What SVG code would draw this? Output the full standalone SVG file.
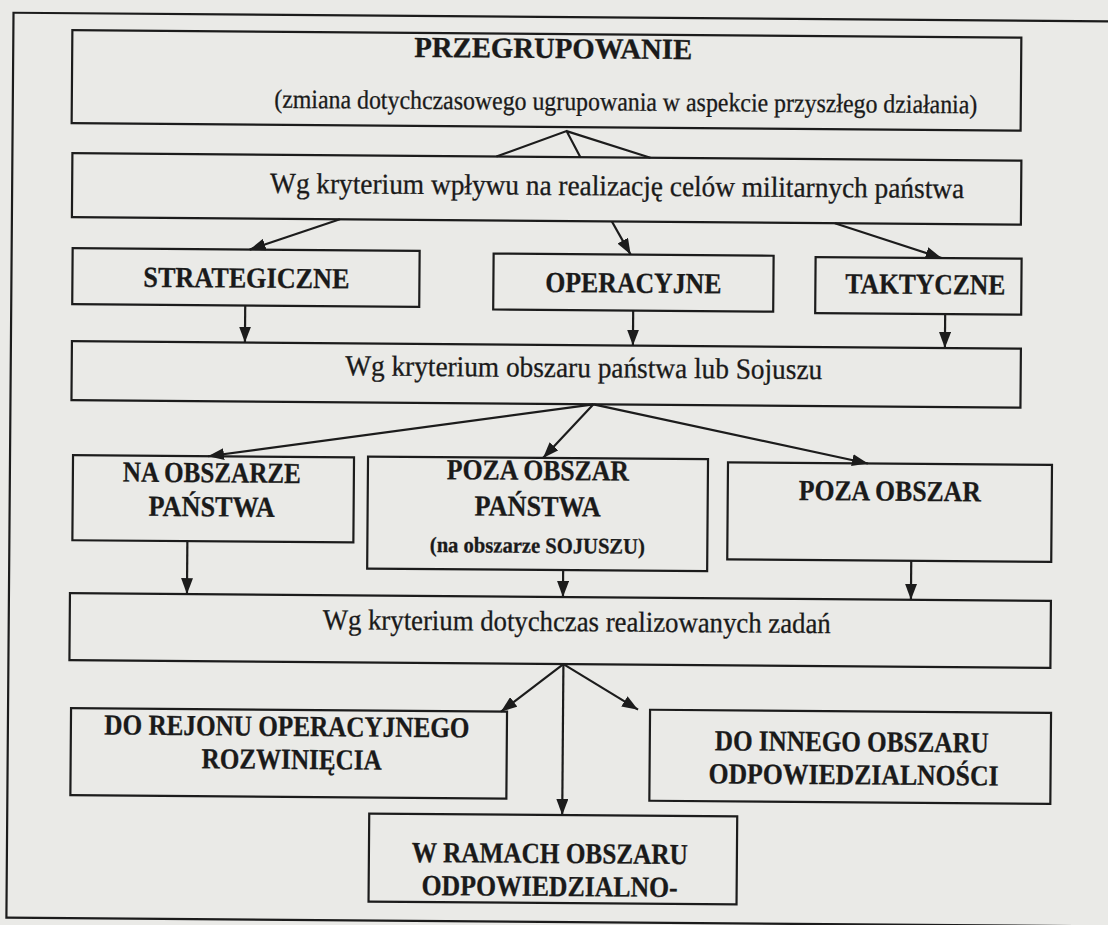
<svg xmlns="http://www.w3.org/2000/svg" width="1108" height="925" viewBox="0 0 1108 925">
  <defs>
    <marker id="arrow" viewBox="0 0 16 12" refX="16" refY="6" markerWidth="16" markerHeight="12" markerUnits="userSpaceOnUse" orient="auto">
      <path d="M0,0 L16,6 L0,12 Z" fill="#1c1c1c"/>
    </marker>
    <style>
      .box { fill: none; stroke: #1c1c1c; stroke-width: 2.2; }
      .frame { fill: none; stroke: #1c1c1c; stroke-width: 2.2; }
      .line { fill: none; stroke: #1c1c1c; stroke-width: 2.2; }
      .arr { fill: none; stroke: #1c1c1c; stroke-width: 2.2; marker-end: url(#arrow); }
      text { font-family: "Liberation Serif", "Times New Roman", serif; fill: #1a1a1a; text-anchor: middle; stroke: #1a1a1a; stroke-width: 0.3; }
      .reg { font-size: 29px; }
      .sub { font-size: 26.5px; }
      .bold { font-size: 29px; font-weight: bold; }
      .small { font-size: 22px; font-weight: bold; }
    </style>
  </defs>

  <rect width="1108" height="925" fill="#eaeae7"/>

  <g transform="rotate(0.45 554 462)">
    <rect class="frame" x="10" y="17" width="1130" height="905"/>

    <g id="n-przegrupowanie">
      <rect class="box" x="69" y="34" width="949" height="93"/>
      <text class="bold" x="550" y="58" textLength="278" lengthAdjust="spacingAndGlyphs">PRZEGRUPOWANIE</text>
      <text class="sub" x="623" y="110" textLength="703" lengthAdjust="spacingAndGlyphs">(zmiana dotychczasowego ugrupowania w aspekcie przyszłego działania)</text>
    </g>

    <g id="n-kryterium-wplywu">
      <rect class="box" x="70" y="157" width="949" height="64"/>
      <text class="reg" x="615" y="195" textLength="694" lengthAdjust="spacingAndGlyphs">Wg kryterium wpływu na realizację celów militarnych państwa</text>
    </g>

    <g id="n-strategiczne">
      <rect class="box" x="71" y="252" width="347" height="56"/>
      <text class="bold" x="245" y="290" textLength="206" lengthAdjust="spacingAndGlyphs">STRATEGICZNE</text>
    </g>

    <g id="n-operacyjne">
      <rect class="box" x="492" y="254" width="280" height="56"/>
      <text class="bold" x="632" y="292" textLength="176" lengthAdjust="spacingAndGlyphs">OPERACYJNE</text>
    </g>

    <g id="n-taktyczne">
      <rect class="box" x="814" y="255" width="206" height="56"/>
      <text class="bold" x="924" y="291" textLength="160" lengthAdjust="spacingAndGlyphs">TAKTYCZNE</text>
    </g>

    <g id="n-kryterium-obszaru">
      <rect class="box" x="71" y="345" width="949" height="59"/>
      <text class="reg" x="583" y="377" textLength="477" lengthAdjust="spacingAndGlyphs">Wg kryterium obszaru państwa lub Sojuszu</text>
    </g>

    <g id="n-na-obszarze">
      <rect class="box" x="73" y="459" width="281" height="85"/>
      <text class="bold" x="212" y="485" textLength="178" lengthAdjust="spacingAndGlyphs">NA OBSZARZE</text>
      <text class="bold" x="212" y="519" textLength="126" lengthAdjust="spacingAndGlyphs">PAŃSTWA</text>
    </g>

    <g id="n-poza-obszar-panstwa">
      <rect class="box" x="368" y="458" width="340" height="112"/>
      <text class="bold" x="538" y="480" textLength="182" lengthAdjust="spacingAndGlyphs">POZA OBSZAR</text>
      <text class="bold" x="538" y="516" textLength="126" lengthAdjust="spacingAndGlyphs">PAŃSTWA</text>
      <text class="small" x="538" y="553" textLength="215" lengthAdjust="spacingAndGlyphs">(na obszarze SOJUSZU)</text>
    </g>

    <g id="n-poza-obszar">
      <rect class="box" x="728" y="461" width="324" height="97"/>
      <text class="bold" x="890" y="498" textLength="182" lengthAdjust="spacingAndGlyphs">POZA OBSZAR</text>
    </g>

    <g id="n-kryterium-zadan">
      <rect class="box" x="71" y="597" width="981" height="67"/>
      <text class="reg" x="578" y="631" textLength="508" lengthAdjust="spacingAndGlyphs">Wg kryterium dotychczas realizowanych zadań</text>
    </g>

    <g id="n-do-rejonu">
      <rect class="box" x="73" y="712" width="436" height="87"/>
      <text class="bold" x="289" y="738" textLength="365" lengthAdjust="spacingAndGlyphs">DO REJONU OPERACYJNEGO</text>
      <text class="bold" x="294" y="771" textLength="180" lengthAdjust="spacingAndGlyphs">ROZWINIĘCIA</text>
    </g>

    <g id="n-do-innego">
      <rect class="box" x="652" y="709" width="401" height="91"/>
      <text class="bold" x="854" y="749" textLength="274" lengthAdjust="spacingAndGlyphs">DO INNEGO OBSZARU</text>
      <text class="bold" x="856" y="782" textLength="290" lengthAdjust="spacingAndGlyphs">ODPOWIEDZIALNOŚCI</text>
    </g>

    <g id="n-w-ramach">
      <rect class="box" x="372" y="815" width="368" height="88"/>
      <text class="bold" x="553" y="863" textLength="276" lengthAdjust="spacingAndGlyphs">W RAMACH OBSZARU</text>
      <text class="bold" x="553" y="896" textLength="256" lengthAdjust="spacingAndGlyphs">ODPOWIEDZIALNO-</text>
    </g>

    <g id="connectors">
      <!-- fan below the top box -->
      <path class="line" d="M494,157 L564,131 L578,157 M564,131 L648,157"/>
      <!-- criterion 1 -> levels -->
      <path class="arr" d="M338,221 L248,252"/>
      <path class="arr" d="M610,221 L629,254"/>
      <path class="arr" d="M833,221 L940,255"/>
      <!-- levels -> criterion 2 -->
      <path class="arr" d="M244,308 L244,345"/>
      <path class="arr" d="M632,310 L632,345"/>
      <path class="arr" d="M944,311 L944,345"/>
      <!-- criterion 2 -> areas -->
      <path class="arr" d="M593,404 L208,459"/>
      <path class="arr" d="M593,404 L543,458"/>
      <path class="arr" d="M593,404 L868,461"/>
      <!-- areas -> criterion 3 -->
      <path class="arr" d="M188,544 L188,597"/>
      <path class="arr" d="M564,570 L564,597"/>
      <path class="arr" d="M912,558 L912,597"/>
      <!-- criterion 3 -> tasks -->
      <path class="arr" d="M565,664 L503,712"/>
      <path class="arr" d="M565,664 L640,709"/>
      <path class="arr" d="M565,664 L565,815"/>
    </g>
  </g>
</svg>
